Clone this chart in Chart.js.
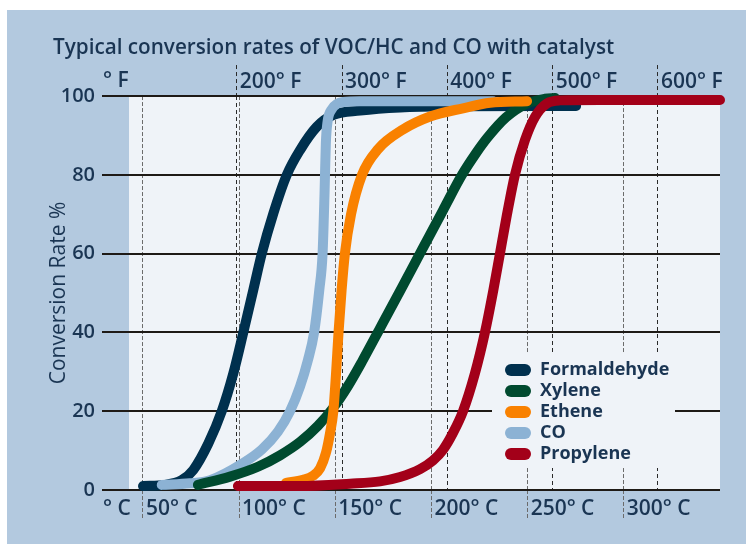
<!DOCTYPE html>
<html>
<head>
<meta charset="utf-8">
<script src="https://cdn.jsdelivr.net/npm/chart.js@4.4.0/dist/chart.umd.min.js"></script>
<style>
  html, body { margin: 0; padding: 0; background: #fff; }
  canvas { display: block; }
</style>
</head>
<body>
<canvas id="chart" width="746" height="544"></canvas>
<script>
// axis ticks
const celsiusTicks = [50, 100, 150, 200, 250, 300];
const fahrenheitTicks = [200, 300, 400, 500, 600];

// series: temperature in °C, conversion rate in %
const formaldehydeTemp = [50.05, 61.5, 70.2, 76.2, 84, 91, 97, 102.2, 107.4, 111.8, 117.8, 124.8, 131.7, 140.4, 149, 162.9, 183.7, 214.9, 275.2];
const formaldehydeRate = [1, 1.3, 2.5, 5.1, 11.8, 20, 29.6, 40, 50.8, 60, 70.2, 80, 86.3, 92.2, 95.2, 96.3, 97.1, 97.4, 97.5];

const xyleneTemp = [78.6, 95.3, 109.8, 121.3, 131.7, 141, 149.3, 156.6, 163.9, 173.3, 184.2, 195.1, 206, 215.9, 223.2, 228.9, 238.8, 249.2, 259.1, 264.3];
const xyleneRate = [1.3, 3.4, 5.9, 8.8, 12.2, 16.3, 21.1, 26.4, 32.6, 41.1, 51, 61, 71, 80, 85.5, 89.3, 94.6, 98, 99.3, 99.5];

const etheneTemp = [124.4, 133.2, 138.4, 142.1, 145.2, 147.3, 149, 150.4, 151.7, 153.3, 155, 158.2, 163.9, 172.2, 185.2, 199.3, 216.4, 230.5, 249.7];
const etheneRate = [1.8, 2.6, 3.6, 5.5, 9.5, 14.5, 20, 29.6, 40, 50.8, 60, 70, 80, 86.5, 91.5, 94.8, 96.9, 98.3, 98.7];

const coTemp = [59.8, 74.5, 84.9, 102, 111.9, 120.2, 126.5, 131.7, 135.8, 139, 141.7, 143.4, 144.4, 145.1, 146, 148.1, 150.9, 154.2, 162.9, 232];
const coRate = [1.3, 1.7, 2.5, 6.8, 10.3, 14.8, 20, 26.3, 33, 40, 50.8, 60, 75, 88, 93.5, 96.6, 98, 98.5, 98.7, 98.7];

const propyleneTemp = [99.4, 131.7, 157.7, 173.3, 183.7, 194.1, 200.8, 206, 211.2, 216.4, 222.6, 227.8, 232.2, 235.6, 239.1, 243.4, 248.6, 253.8, 259.9, 266.8, 287.6, 350];
const propyleneRate = [1, 1, 1.6, 2.2, 3.3, 5.3, 7.5, 10.2, 14.5, 20, 29.6, 40, 50.8, 60, 69.5, 80, 88.8, 94.7, 98.1, 98.9, 99, 99];

const textColor = '#1a3553';
const fontFamily = "'Open Sans', sans-serif";

function toPoints(temps, rates) {
    return temps.map((t, i) => ({ x: t, y: rates[i] }));
}

function curve(label, temps, rates, color, order) {
    return {
        label: label,
        data: toPoints(temps, rates),
        borderColor: color,
        backgroundColor: color,
        borderWidth: 10,
        borderCapStyle: 'round',
        borderJoinStyle: 'round',
        pointRadius: 0,
        cubicInterpolationMode: 'monotone',
        fill: false,
        clip: false,
        order: order
    };
}

// panel + plot backgrounds, legend box, unit labels
const backgrounds = {
    id: 'backgrounds',
    beforeDraw(chart) {
        const { ctx, chartArea } = chart;
        ctx.save();
        ctx.fillStyle = '#ffffff';
        ctx.fillRect(0, 0, chart.width, chart.height);
        ctx.fillStyle = '#b3c9df';
        ctx.fillRect(7, 10, chart.width - 7, chart.height - 10);
        ctx.fillStyle = '#eff3f8';
        ctx.fillRect(chartArea.left, chartArea.top, chartArea.right - chartArea.left, chartArea.bottom - chartArea.top);
        ctx.restore();

        // legend sits inside the plot, lower right
        const legend = chart.legend;
        legend.left = 502;
        legend.top = 358;
        legend.right = 680;
        legend.bottom = 470;
        legend.width = legend.right - legend.left;
        legend.height = legend.bottom - legend.top;
    },
    beforeDatasetsDraw(chart) {
        const ctx = chart.ctx;
        ctx.save();
        ctx.fillStyle = '#eff3f8';
        ctx.fillRect(492, 353, 183, 115);
        ctx.restore();
        chart.legend.draw();
    },
    afterDraw(chart) {
        const ctx = chart.ctx;
        ctx.save();
        ctx.font = '600 21px ' + fontFamily;
        ctx.fillStyle = textColor;
        ctx.textAlign = 'left';
        ctx.textBaseline = 'middle';
        ctx.fillText('° F', 103, 81.5);
        ctx.fillText('° C', 103, 509.5);
        ctx.restore();
    }
};

const xTickFont = { family: fontFamily, size: 21, weight: '600' };
const yTickFont = { family: fontFamily, size: 20, weight: '600' };

new Chart(document.getElementById('chart'), {
    type: 'line',
    data: {
        datasets: [
            curve('Formaldehyde', formaldehydeTemp, formaldehydeRate, '#00304e', 4),
            curve('Xylene', xyleneTemp, xyleneRate, '#004a2f', 2),
            curve('Ethene', etheneTemp, etheneRate, '#f98100', 1),
            curve('CO', coTemp, coRate, '#8cb2d4', 3),
            curve('Propylene', propyleneTemp, propyleneRate, '#a30019', 0)
        ]
    },
    options: {
        responsive: false,
        animation: false,
        layout: { padding: { left: 53, right: 26, top: 10, bottom: 0 } },
        scales: {
            x: {
                type: 'linear',
                position: 'bottom',
                min: 42.77,
                max: 350,
                afterBuildTicks: scale => { scale.ticks = celsiusTicks.map(v => ({ value: v })); },
                afterFit: scale => { scale.height = 54; },
                grid: {
                    color: '#6b6b6b',
                    lineWidth: 1,
                    drawTicks: true,
                    tickLength: 30,
                    tickColor: '#6b6b6b',
                    tickWidth: 1,
                    tickBorderDash: [4, 2]
                },
                border: { display: false, dash: [4, 2] },
                ticks: {
                    align: 'start',
                    labelOffset: 3,
                    padding: -23.1,
                    maxRotation: 0,
                    autoSkip: false,
                    font: xTickFont,
                    color: textColor,
                    callback: v => v + '° C'
                }
            },
            x2: {
                type: 'linear',
                axis: 'x',
                position: 'top',
                min: 97.75,
                max: 658.9,
                afterBuildTicks: scale => { scale.ticks = fahrenheitTicks.map(v => ({ value: v })); },
                afterFit: scale => { scale.height = 35.7; },
                grid: {
                    color: '#2a2a2a',
                    lineWidth: 1,
                    drawTicks: true,
                    tickLength: 31,
                    tickColor: '#2a2a2a',
                    tickWidth: 1,
                    tickBorderDash: [4, 3]
                },
                border: { display: false, dash: [4, 3] },
                ticks: {
                    align: 'start',
                    labelOffset: 3,
                    padding: -29.1,
                    maxRotation: 0,
                    autoSkip: false,
                    font: xTickFont,
                    color: textColor,
                    callback: v => v + '° F'
                }
            },
            y: {
                min: 0,
                max: 100,
                afterFit: scale => { scale.width = 76; },
                grid: {
                    color: '#1e1a16',
                    lineWidth: 2,
                    drawTicks: true,
                    tickLength: 27,
                    tickColor: '#1e1a16',
                    tickWidth: 2
                },
                border: { display: false },
                ticks: {
                    stepSize: 20,
                    padding: 7,
                    font: yTickFont,
                    color: textColor
                },
                title: {
                    display: true,
                    text: 'Conversion Rate %',
                    font: { family: fontFamily, size: 21, weight: '500' },
                    color: textColor,
                    padding: { top: -6.5, bottom: 0 }
                }
            }
        },
        plugins: {
            title: {
                display: true,
                text: 'Typical conversion rates of VOC/HC and CO with catalyst',
                align: 'start',
                font: { family: fontFamily, size: 20.7, weight: '600', lineHeight: 1.2 },
                color: textColor,
                padding: { top: 25.5, bottom: 0 }
            },
            legend: {
                position: 'chartArea',
                align: 'start',
                labels: {
                    boxWidth: 26,
                    boxHeight: 12,
                    padding: 3,
                    useBorderRadius: true,
                    borderRadius: 6,
                    color: textColor,
                    font: { family: fontFamily, size: 18, weight: 'bold' },
                    sort: (a, b) => a.datasetIndex - b.datasetIndex,
                    generateLabels: chart => Chart.defaults.plugins.legend.labels.generateLabels(chart).map(item => ({
                        ...item,
                        fillStyle: item.strokeStyle,
                        lineWidth: 0,
                        borderRadius: 6
                    }))
                }
            },
            tooltip: { enabled: false }
        }
    },
    plugins: [backgrounds]
});
</script>
</body>
</html>
